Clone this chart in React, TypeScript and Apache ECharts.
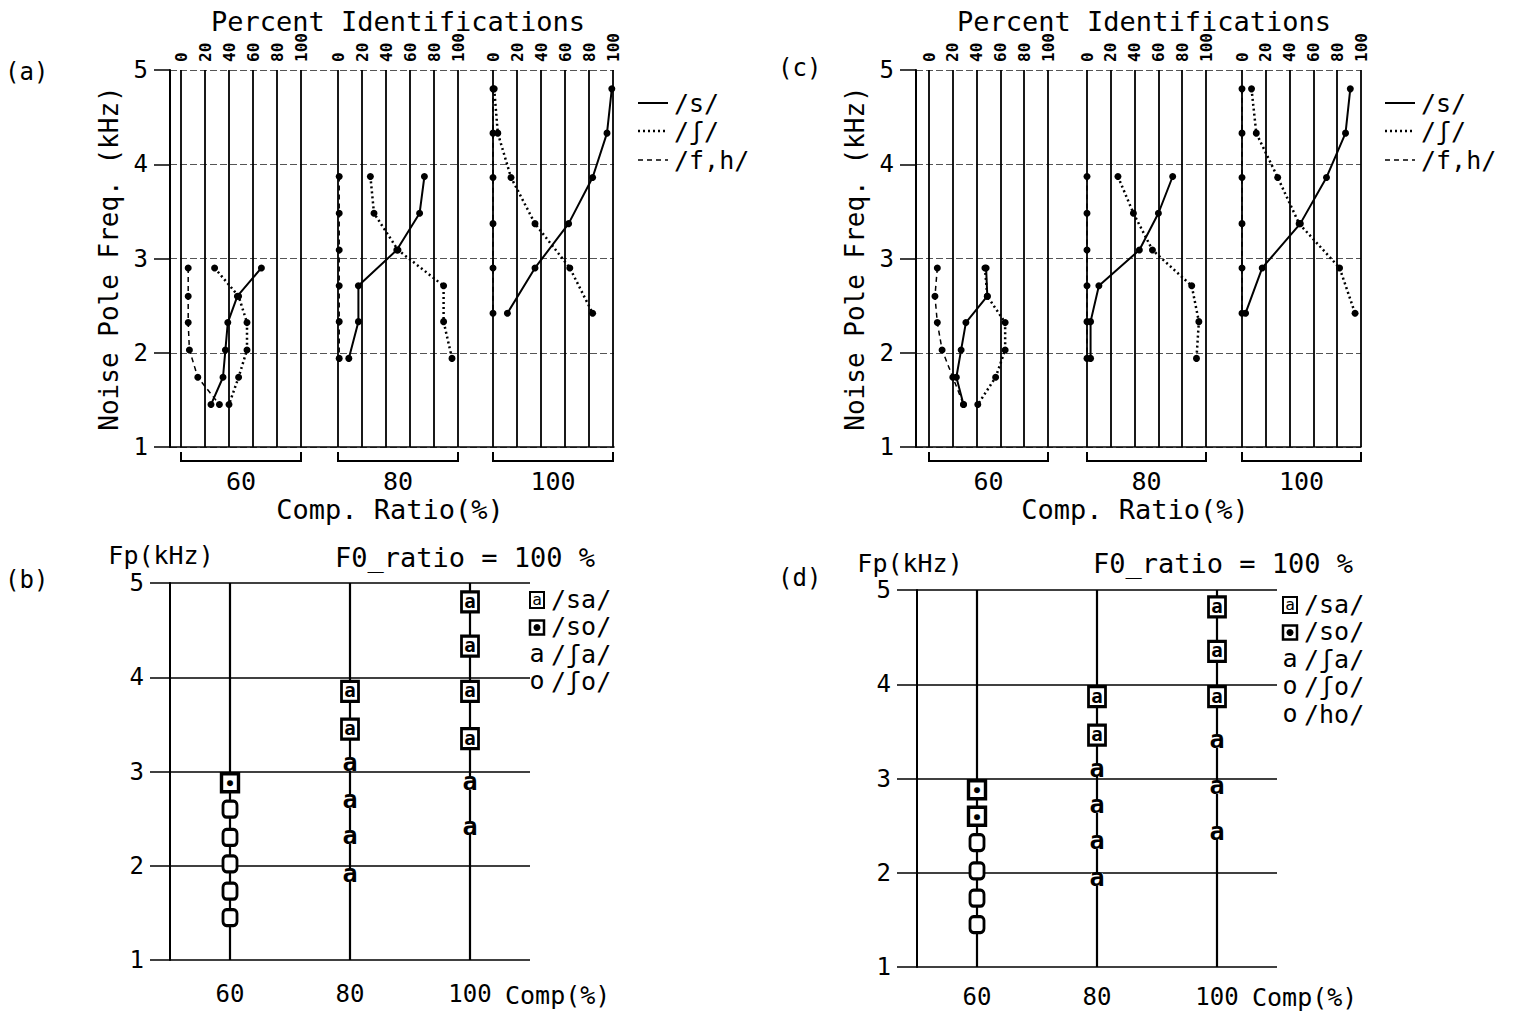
import React, { useEffect, useRef } from "react";
import * as echarts from "echarts";

const FONT = '"DejaVu Sans Mono", "Liberation Mono", monospace';

// stimulus noise-pole frequencies (kHz) for each compression ratio
const freq60 = [2.9, 2.6, 2.32, 2.03, 1.74, 1.45];
const freq80 = [3.87, 3.48, 3.09, 2.71, 2.33, 1.94];
const freq100 = [4.8, 4.33, 3.86, 3.37, 2.9, 2.42];

const compLevels = [60, 80, 100];
const compLabels = ["60", "80", "100"];

// panel (a): percent identifications
const aS60 = [67, 47, 39, 37, 35, 25];
const aSh60 = [28, 48, 55, 55, 48, 40];
const aFh60 = [6, 6, 6, 7, 14, 32];
const aS80 = [72, 68, 49, 17, 17, 9];
const aSh80 = [27, 30, 50, 88, 88, 95];
const aFh80 = [1, 1, 1, 1, 1, 1];
const aS100 = [99, 95, 83, 63, 35, 12];
const aSh100 = [1, 4, 15, 35, 64, 83];
const aFh100 = [0, 0, 0, 0, 0, 0];

// panel (c): percent identifications
const cS60 = [48, 49, 31, 27, 23, 29];
const cSh60 = [47, 49, 64, 64, 56, 41];
const cFh60 = [7, 5, 7, 11, 20, 29];
const cS80 = [72, 60, 44, 10, 3, 3];
const cSh80 = [26, 39, 55, 88, 94, 92];
const cFh80 = [0, 0, 0, 0, 0, 0];
const cS100 = [91, 87, 71, 49, 17, 3];
const cSh100 = [8, 12, 30, 48, 82, 95];
const cFh100 = [0, 0, 0, 0, 0, 0];

// panel (b): response categories  [comp %, Fp kHz]
const bSa = [[80, 3.85], [80, 3.45], [100, 4.8], [100, 4.33], [100, 3.85], [100, 3.35]];
const bSo = [[60, 2.88]];
const bSha = [[80, 3.07], [80, 2.68], [80, 2.3], [80, 1.9], [100, 2.87], [100, 2.4]];
const bSho = [[60, 2.6], [60, 2.3], [60, 2.02], [60, 1.73], [60, 1.45]];

// panel (d)
const dSa = [[80, 3.87], [80, 3.46], [100, 4.82], [100, 4.35], [100, 3.87]];
const dSo = [[60, 2.88], [60, 2.6]];
const dSha = [[80, 3.09], [80, 2.7], [80, 2.32], [80, 1.93], [100, 3.39], [100, 2.9], [100, 2.42]];
const dO = [[60, 2.32], [60, 2.02], [60, 1.73], [60, 1.45]];

const legendTop = ["/s/", "/ʃ/", "/f,h/"];
const legendB = ["/sa/", "/so/", "/ʃa/", "/ʃo/"];
const legendD = ["/sa/", "/so/", "/ʃa/", "/ʃo/", "/ho/"];

function txt(x: number, y: number, text: string, size: number, align = "left", rotation = 0) {
  return {
    type: "text",
    x,
    y,
    rotation,
    style: {
      text,
      font: `${size}px ${FONT}`,
      fill: "#000",
      align,
      textAlign: align,
      verticalAlign: "middle",
      textVerticalAlign: "middle",
    },
    silent: true,
  };
}

function buildOption() {
  const grid: any[] = [];
  const xAxis: any[] = [];
  const yAxis: any[] = [];
  const series: any[] = [];
  const graphic: any[] = [];

  const lineStyles = [
    { type: "solid", width: 2 },
    { type: [2, 3], width: 2.5 },
    { type: [5, 4], width: 1.5 },
  ];

  function topPanel(
    axisX: number,
    right: number,
    groupLefts: number[],
    groupW: number,
    freqs: number[][],
    groups: number[][][],
    legendX: number,
    titleX: number,
    compTitleX: number
  ) {
    const top = 70;
    const h = 377;
    const gi = grid.length;
    grid.push({ left: axisX, top, width: right - axisX, height: h });
    xAxis.push({
      gridIndex: gi, type: "value", min: 0, max: 1, position: "bottom",
      axisLine: { show: true, lineStyle: { color: "#000", width: 1.5 } },
      axisTick: { show: false }, axisLabel: { show: false }, splitLine: { show: false },
    });
    yAxis.push({
      gridIndex: gi, type: "value", min: 1, max: 5, interval: 1,
      axisLine: { show: true, lineStyle: { color: "#000", width: 2 } },
      axisTick: { show: true, length: 16, lineStyle: { color: "#000", width: 1.5 } },
      axisLabel: { fontSize: 24, fontFamily: FONT, color: "#000", margin: 22 },
      splitLine: { show: true, lineStyle: { color: "#555", type: [7, 3], width: 1 } },
      name: "Noise Pole Freq. (kHz)", nameLocation: "middle", nameGap: 48,
      nameTextStyle: { fontSize: 26, fontFamily: FONT, color: "#000" },
    });
    groupLefts.forEach((gl, g) => {
      const idx = grid.length;
      grid.push({ left: gl, top, width: groupW, height: h });
      xAxis.push({
        gridIndex: idx, type: "value", min: 0, max: 100, interval: 20, position: "top",
        axisLine: { show: false }, axisTick: { show: false },
        axisLabel: { rotate: -90, fontSize: 16, fontWeight: "bold", fontFamily: FONT, color: "#000", margin: 8 },
        splitLine: { show: true, lineStyle: { color: "#000", width: 1.8 } },
      });
      yAxis.push({ gridIndex: idx, type: "value", min: 1, max: 5, show: false });
      groups[g].forEach((vals, k) => {
        series.push({
          type: "line", xAxisIndex: idx, yAxisIndex: idx,
          data: vals.map((v, i) => [v, freqs[g][i]]),
          symbol: "circle", symbolSize: 7, showSymbol: true,
          itemStyle: { color: "#000" },
          lineStyle: { color: "#000", ...lineStyles[k] },
          z: 4,
        });
      });
      // bracket + comp label under each group
      const l = gl, r = gl + groupW;
      graphic.push({
        type: "polyline", silent: true,
        shape: { points: [[l, 452], [l, 461], [r, 461], [r, 452]] },
        style: { stroke: "#000", lineWidth: 2, fill: null },
      });
      graphic.push(txt((l + r) / 2, 481, compLabels[g], 25, "center"));
    });
    graphic.push(txt(titleX, 21, "Percent Identifications", 27, "center"));
    graphic.push(txt(compTitleX, 509, "Comp. Ratio(%)", 27, "center"));
    const ly = [103, 131, 160];
    legendTop.forEach((t, k) => {
      graphic.push({
        type: "line", silent: true,
        shape: { x1: legendX, y1: ly[k], x2: legendX + 30, y2: ly[k] },
        style: { stroke: "#000", lineWidth: lineStyles[k].width, lineDash: k === 0 ? null : lineStyles[k].type },
      });
      graphic.push(txt(legendX + 36, ly[k], t, 25));
    });
  }

  function bottomPanel(left: number, top: number, labelMargin: number, sets: { sa: number[][]; so: number[][]; a: number[][]; o: number[][] }) {
    const gi = grid.length;
    grid.push({ left, top, width: 360, height: 377 });
    xAxis.push({
      gridIndex: gi, type: "value", min: 50, max: 110, interval: 10,
      axisLine: { show: false }, axisTick: { show: false },
      axisLabel: {
        fontSize: 24, fontFamily: FONT, color: "#000", margin: labelMargin,
        formatter: (v: number) => (compLevels.includes(v) ? String(v) : ""),
      },
      splitLine: { show: false },
    });
    yAxis.push({
      gridIndex: gi, type: "value", min: 1, max: 5, interval: 1,
      axisLine: { show: true, lineStyle: { color: "#000", width: 2 } },
      axisTick: { show: true, length: 20, lineStyle: { color: "#000", width: 1.5 } },
      axisLabel: { fontSize: 24, fontFamily: FONT, color: "#000", margin: 26 },
      splitLine: { show: true, lineStyle: { color: "#000", width: 1.5 } },
    });
    compLevels.forEach((c) => {
      series.push({
        type: "line", xAxisIndex: gi, yAxisIndex: gi, data: [[c, 1], [c, 5]],
        symbol: "none", lineStyle: { color: "#000", width: 2.2 }, z: 1, silent: true,
      });
    });
    const base = { type: "scatter", xAxisIndex: gi, yAxisIndex: gi, z: 5, silent: true };
    const lab = { show: true, position: "inside", fontFamily: FONT, color: "#000", textBorderWidth: 0, textBorderColor: "transparent" };
    series.push({
      ...base, data: sets.sa, symbol: "rect", symbolSize: [17, 20],
      itemStyle: { color: "#fff", borderColor: "#000", borderWidth: 3, opacity: 1 },
      label: { ...lab, formatter: "a", fontSize: 19, fontWeight: "bold", offset: [0, -1] },
    });
    series.push({
      ...base, data: sets.so, symbol: "rect", symbolSize: [17, 18],
      itemStyle: { color: "#fff", borderColor: "#000", borderWidth: 3.5, opacity: 1 },
      label: { ...lab, formatter: "●", fontSize: 10 },
    });
    series.push({
      ...base, data: sets.a, symbol: "rect", symbolSize: [12, 12],
      itemStyle: { color: "#fff", opacity: 1 },
      label: { ...lab, formatter: "a", fontSize: 25, fontWeight: "bold", offset: [0, -2] },
    });
    series.push({
      ...base, data: sets.o, symbol: "roundRect", symbolSize: [14, 16],
      itemStyle: { color: "#fff", borderColor: "#000", borderWidth: 3, opacity: 1 },
    });
  }

  function bLegend(x: number, y0: number, labels: string[]) {
    labels.forEach((t, k) => {
      const y = y0 + k * 27.5;
      if (k === 0) {
        graphic.push({ type: "rect", silent: true, shape: { x: x - 7, y: y - 8, width: 14, height: 16 }, style: { fill: "#fff", stroke: "#000", lineWidth: 2 } });
        graphic.push(txt(x, y - 1, "a", 16, "center"));
      } else if (k === 1) {
        graphic.push({ type: "rect", silent: true, shape: { x: x - 7, y: y - 7, width: 14, height: 14 }, style: { fill: "#fff", stroke: "#000", lineWidth: 2.5 } });
        graphic.push({ type: "circle", silent: true, shape: { cx: x, cy: y, r: 3.5 }, style: { fill: "#000" } });
      } else if (k === 2) {
        graphic.push(txt(x, y - 2, "a", 25, "center"));
      } else {
        graphic.push(txt(x, y - 2, "o", 25, "center"));
      }
      graphic.push(txt(x + 14, y - 1, t, 25));
    });
  }

  topPanel(170, 614, [181, 338, 493], 120, [freq60, freq80, freq100],
    [[aS60, aSh60, aFh60], [aS80, aSh80, aFh80], [aS100, aSh100, aFh100]], 638, 398, 390);
  topPanel(916, 1361, [929, 1087, 1242], 119, [freq60, freq80, freq100],
    [[cS60, cSh60, cFh60], [cS80, cSh80, cFh80], [cS100, cSh100, cFh100]], 1385, 1144, 1135);

  bottomPanel(170, 583, 22, { sa: bSa, so: bSo, a: bSha, o: bSho });
  bottomPanel(917, 590, 18, { sa: dSa, so: dSo, a: dSha, o: dO });

  bLegend(537, 600, legendB);
  bLegend(1290, 605, legendD);

  graphic.push(txt(161, 555, "Fp(kHz)", 25, "center"));
  graphic.push(txt(335, 557, "F0_ratio = 100 %", 27));
  graphic.push(txt(505, 995, "Comp(%)", 25));
  graphic.push(txt(910, 563, "Fp(kHz)", 25, "center"));
  graphic.push(txt(1093, 563, "F0_ratio = 100 %", 27));
  graphic.push(txt(1252, 997, "Comp(%)", 25));

  graphic.push(txt(5, 72, "(a)", 24));
  graphic.push(txt(5, 580, "(b)", 24));
  graphic.push(txt(778, 68, "(c)", 24));
  graphic.push(txt(778, 578, "(d)", 24));

  return {
    animation: false,
    backgroundColor: "#fff",
    textStyle: { fontFamily: FONT },
    grid,
    xAxis,
    yAxis,
    series,
    graphic: { elements: graphic },
  };
}

export default function App() {
  const ref = useRef<HTMLDivElement>(null);
  useEffect(() => {
    document.body.style.margin = "0";
    const chart = echarts.init(ref.current!, null, { renderer: "svg" });
    chart.setOption(buildOption() as any);
    return () => chart.dispose();
  }, []);
  return <div ref={ref} style={{ width: 1514, height: 1013, background: "#fff" }} />;
}
